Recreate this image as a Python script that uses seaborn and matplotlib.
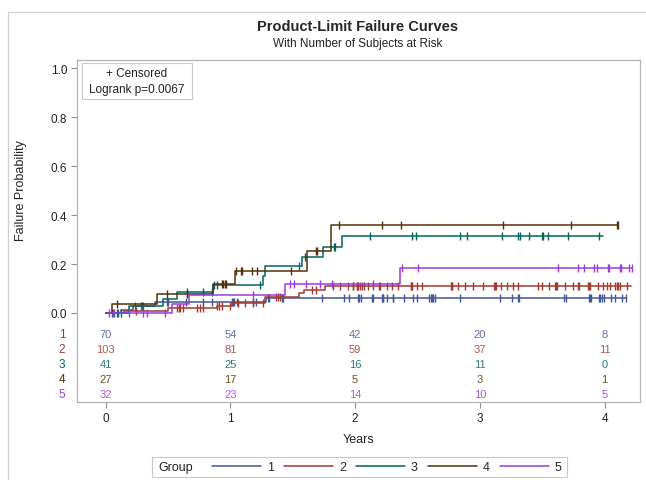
import numpy as np
import pandas as pd
import seaborn as sns
import matplotlib.pyplot as plt
from matplotlib.lines import Line2D
from matplotlib.patches import Rectangle

# groups and colours (SAS HTMLBlue style)
groups = ['1', '2', '3', '4', '5']
colors = ['#445694', '#A23A2E', '#01665E', '#543005', '#9D3CDB']

# failure steps: event times (years) and failure probability after each event
g1_event_t = [0.12, 0.22, 0.40, 1.29]
g1_event_p = [0.014, 0.029, 0.046, 0.061]
g1_end = 4.17
g1_censor = [0.054, 0.07, 0.236, 0.284, 0.292, 0.297, 0.495, 0.50, 0.645, 0.778, 0.85, 1.011, 1.024,
             1.029, 1.051, 1.179, 1.206, 1.304, 1.312, 1.412, 1.425, 1.732, 1.911, 1.951, 2.026, 2.034,
             2.045, 2.133, 2.141, 2.213, 2.221, 2.226, 2.253, 2.301, 2.306, 2.394, 2.467, 2.499, 2.595,
             2.606, 2.616, 2.627, 2.640, 2.841, 3.164, 3.260, 3.303, 3.316, 3.677, 3.691, 3.875, 3.883,
             3.891, 3.953, 3.963, 3.977, 3.995, 4.051, 4.083, 4.142, 4.17]

g2_event_t = [0.15, 0.50, 0.89, 1.01, 1.28, 1.55, 1.59, 1.76]
g2_event_p = [0.010, 0.020, 0.030, 0.041, 0.067, 0.082, 0.095, 0.112]
g2_end = 4.21
g2_censor = [0.09, 0.24, 0.57, 0.585, 0.60, 0.62, 0.735, 0.757, 0.778, 0.89, 0.91, 0.93, 1.00, 1.064,
             1.12, 1.184, 1.264, 1.37, 1.38, 1.40, 1.652, 1.687, 1.82, 1.879, 1.946, 1.981, 1.986, 2.013,
             2.018, 2.026, 2.039, 2.053, 2.071, 2.106, 2.141, 2.195, 2.2, 2.253, 2.293, 2.346, 2.446,
             2.451, 2.456, 2.494, 2.539, 2.769, 2.774, 2.779, 2.827, 2.881, 2.948, 3.028, 3.116, 3.122,
             3.127, 3.167, 3.22, 3.263, 3.308, 3.469, 3.501, 3.557, 3.602, 3.608, 3.616, 3.683, 3.749,
             3.79, 3.795, 3.869, 3.876, 3.883, 3.945, 3.990, 4.017, 4.043, 4.083, 4.097, 4.11, 4.124, 4.182]

g3_event_t = [0.19, 0.457, 0.57, 0.86, 1.259, 1.278, 1.578, 1.74, 1.892]
g3_event_p = [0.027, 0.058, 0.085, 0.114, 0.153, 0.191, 0.230, 0.268, 0.313]
g3_end = 3.985
g3_censor = [0.10, 0.12, 0.655, 0.78, 0.853, 0.866, 0.895, 1.238, 1.553, 1.60, 1.833, 1.839, 2.119,
             2.454, 2.486, 2.841, 2.895, 3.18, 3.304, 3.325, 3.397, 3.495, 3.503, 3.545, 3.705, 3.958]

g4_event_t = [0.054, 0.415, 0.865, 1.037, 1.617, 1.81]
g4_event_p = [0.037, 0.076, 0.118, 0.172, 0.255, 0.361]
g4_end = 4.11
g4_censor = [0.094, 0.495, 0.655, 0.93, 0.945, 0.955, 0.963, 1.045, 1.083, 1.09, 1.171, 1.216, 1.484,
             1.684, 1.692, 1.871, 2.213, 2.366, 3.188, 3.728, 4.097, 4.11]

g5_event_t = [0.535, 0.665, 1.44, 2.36]
g5_event_p = [0.035, 0.074, 0.120, 0.183]
g5_end = 4.222
g5_censor = [0.03, 0.06, 0.19, 0.30, 0.33, 0.48, 1.184, 1.478, 1.513, 1.61, 1.719, 1.817, 2.141, 2.378,
             2.507, 3.624, 3.789, 3.835, 3.915, 3.942, 4.025, 4.035, 4.125, 4.133, 4.196, 4.222]

# number at risk table
risk_times = [0, 1, 2, 3, 4]
risk_1 = [70, 54, 42, 20, 8]
risk_2 = [103, 81, 59, 37, 11]
risk_3 = [41, 25, 16, 11, 0]
risk_4 = [27, 17, 5, 3, 1]
risk_5 = [32, 23, 14, 10, 5]

title = 'Product-Limit Failure Curves'
subtitle = 'With Number of Subjects at Risk'
inset_lines = ['+ Censored', 'Logrank p=0.0067']

events_t = [g1_event_t, g2_event_t, g3_event_t, g4_event_t, g5_event_t]
events_p = [g1_event_p, g2_event_p, g3_event_p, g4_event_p, g5_event_p]
ends = [g1_end, g2_end, g3_end, g4_end, g5_end]
censors = [g1_censor, g2_censor, g3_censor, g4_censor, g5_censor]
risks = [risk_1, risk_2, risk_3, risk_4, risk_5]

# build long tables for seaborn
curve_rows = []
cens_rows = []
for g, et, ep, end, cs in zip(groups, events_t, events_p, ends, censors):
    t = np.array([0.0] + et + [end])
    p = np.array([0.0] + ep + [ep[-1]])
    for ti, pi in zip(t, p):
        curve_rows.append((g, ti, pi))
    idx = np.searchsorted(t, cs, side='right') - 1
    for ci, pi in zip(cs, p[idx]):
        cens_rows.append((g, ci, pi))
curves = pd.DataFrame(curve_rows, columns=['Group', 'Years', 'Failure'])
cens = pd.DataFrame(cens_rows, columns=['Group', 'Years', 'Failure'])

sns.set_theme(style='white')
plt.rcParams['font.family'] = ['Liberation Sans', 'DejaVu Sans']

fig = plt.figure(figsize=(6.46, 4.81), dpi=100)
W, H = 646.0, 481.0
ax = fig.add_axes([77 / W, 1 - 403 / H, 563 / W, 342 / H])

pal = dict(zip(groups, colors))
for g in groups:
    sub = curves[curves.Group == g]
    sns.lineplot(data=sub, x='Years', y='Failure', color=pal[g], drawstyle='steps-post',
                 estimator=None, sort=False, lw=1.1, ax=ax, legend=False)
    cs = cens[cens.Group == g]
    ax.plot(cs.Years, cs.Failure, ls='none', marker='|', ms=6, mew=1.0, color=pal[g])

ax.set_xlim(-0.229, 4.284)
ax.set_ylim(-0.364, 1.034)
ax.set_xticks(risk_times)
ax.set_yticks([0.0, 0.2, 0.4, 0.6, 0.8, 1.0])
ax.set_yticklabels(['0.0', '0.2', '0.4', '0.6', '0.8', '1.0'])
ax.tick_params(axis='both', direction='out', length=4, width=0.8, color='#8c8c8c',
               labelsize=8.5, labelcolor='#222222', pad=3)
ax.tick_params(axis='x', bottom=True)
ax.tick_params(axis='y', left=True)
for s in ax.spines.values():
    s.set_color('#b4b4b4')
    s.set_linewidth(0.9)

ax.set_xlabel('Years', fontsize=9, color='#222222', labelpad=7)
ax.set_ylabel('Failure Probability', fontsize=9, color='#222222')
ax.yaxis.set_label_coords(-0.088, (403 - 191) / 342)

# at-risk table inside the plot area
row_y = [-0.086, -0.147, -0.208, -0.270, -0.331]
for g, col, r, yy in zip(groups, colors, risks, row_y):
    ax.text(-0.35, yy, g, color=col, fontsize=8.5, ha='center', va='center', clip_on=False)
    for tt, n in zip(risk_times, r):
        ax.text(tt, yy, str(n), color=col, alpha=0.85, fontsize=8, ha='center', va='center')

# inset box with censored note and logrank p
fig.patches.append(Rectangle((82 / W, 1 - 100 / H), 110 / W, 36 / H, transform=fig.transFigure,
                             fill=False, ec='#c8c8c8', lw=0.8))
fig.text(137 / W, 1 - 74 / H, inset_lines[0], fontsize=8.5, ha='center', va='center', color='#222222')
fig.text(137 / W, 1 - 90 / H, inset_lines[1], fontsize=8.5, ha='center', va='center', color='#222222')

# titles
fig.text(358 / W, 1 - 27 / H, title, fontsize=10.5, fontweight='bold', ha='center', va='center')
fig.text(358 / W, 1 - 44 / H, subtitle, fontsize=8.5, ha='center', va='center', color='#222222')

# outer graph border (left and top)
fig.add_artist(Line2D([8 / W, 8 / W], [0, 1 - 13 / H], transform=fig.transFigure, color='#d0d0d0', lw=0.9))
fig.add_artist(Line2D([8 / W, 1], [1 - 13 / H, 1 - 13 / H], transform=fig.transFigure, color='#d0d0d0', lw=0.9))

# bottom legend
fig.patches.append(Rectangle((152 / W, 1 - 478 / H), 415 / W, 20 / H, transform=fig.transFigure,
                             fill=False, ec='#c8c8c8', lw=0.8))
fig.text(158 / W, 1 - 468 / H, 'Group', fontsize=9, ha='left', va='center', color='#222222')
handles = [Line2D([0], [0], color=c, lw=1.1) for c in colors]
fig.legend(handles, groups, loc='center left', bbox_to_anchor=(212 / W, 1 - 468 / H), ncol=5,
           frameon=False, fontsize=9, handlelength=3.9, handletextpad=0.5, columnspacing=0.8,
           borderpad=0, borderaxespad=0)

fig.savefig('out.png', dpi=100)
